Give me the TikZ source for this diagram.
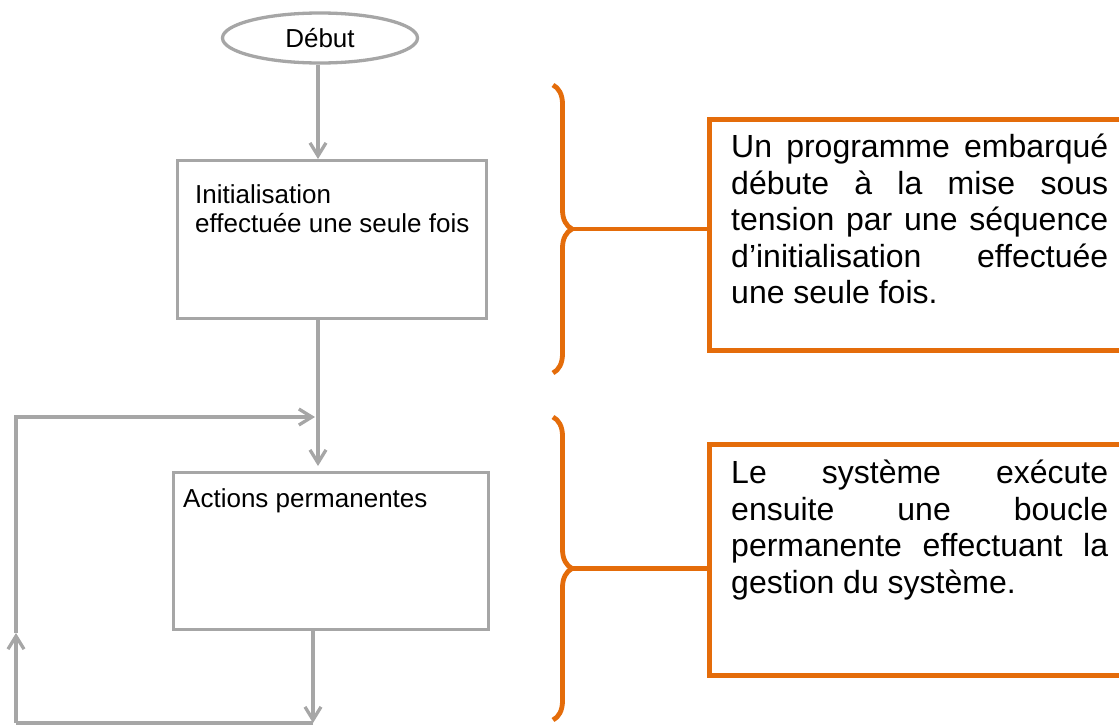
\documentclass[tikz,border=0pt]{standalone}
\usepackage{fontspec}
\setmainfont{Liberation Sans}
\usetikzlibrary{arrows.meta,shapes.geometric,decorations.pathreplacing}
\definecolor{flowgray}{RGB}{166,166,166}
\definecolor{noteorange}{RGB}{228,108,10}
\tikzset{
  flowline/.style={draw=flowgray, line width=3.3pt},
  flowarrow/.style={flowline, -{Straight Barb[length=13pt,width=16pt]}},
  flowbox/.style={draw=flowgray, line width=3.3pt, rectangle, inner sep=0pt},
  flowtext/.style={font=\fontsize{26}{29}\selectfont, inner sep=0pt, align=left},
  notebox/.style={draw=noteorange, line width=5pt, rectangle, inner sep=0pt},
  noteline/.style={draw=noteorange, line width=4.5pt},
  notetext/.style={font=\fontsize{32}{36.5}\selectfont, text width=377pt, align=justify, inner sep=0pt},
  bracket/.style={draw=noteorange, line width=4.8pt, decorate, decoration={brace, amplitude=19pt}},
}
\begin{document}
\begin{tikzpicture}[x=1pt, y=-1pt]
\useasboundingbox (0,0) rectangle (1119,726);

% Flow chart: start, then the two blocks
\node[ellipse, draw=flowgray, line width=3.3pt, minimum width=195pt, minimum height=50pt, inner sep=0pt, font=\fontsize{26}{29}\selectfont] (start) at (320,38) {Début};
\node[flowbox, minimum width=309pt, minimum height=158pt, anchor=north west] (init) at (176,159) {};
\node[flowtext, anchor=north west] (inittext) at (195,184) {Initialisation\\effectuée une seule fois};
\node[flowbox, minimum width=315pt, minimum height=157pt, anchor=north west] (loop) at (172,471) {};
\node[flowtext, anchor=base west] (looptext) at (183,507) {Actions permanentes};

% Connectors and the loop back
\coordinate (merge) at (318,417);
\coordinate (looptop) at (16,417);
\coordinate (loopleft) at (16,633);
\coordinate (loopcorner) at (16,723);
\coordinate (loopbottom) at (313,723);
\draw[flowarrow] (start.south -| merge) -- (init.north -| merge);
\draw[flowline] (init.south -| merge) -- (merge);
\draw[flowarrow, shorten >=5pt] (merge) -- (loop.north -| merge);
\draw[flowarrow] (loop.south -| loopbottom) -- (loopbottom);
\draw[flowline] (loopbottom) -- (loopcorner);
\draw[flowarrow] (loopcorner) -- (loopleft);
\draw[flowarrow, shorten >=3pt] (loopleft) -- (looptop) -- (merge);

% Notes on the right with their braces
\node[notebox, minimum width=425pt, minimum height=231pt, anchor=north west] (initnote) at (707,117) {};
\node[notetext, anchor=north west] (initnotetext) at (731,134) {Un programme embarqué\linebreak débute à la mise sous\linebreak tension par une séquence\linebreak d’initialisation effectuée\linebreak une seule fois.};
\node[notebox, minimum width=425pt, minimum height=231pt, anchor=north west] (loopnote) at (707,442) {};
\node[notetext, anchor=north west] (loopnotetext) at (731,460) {Le système exécute\linebreak ensuite une boucle\linebreak permanente effectuant la\linebreak gestion du système.};

\coordinate (initbracetop) at (553,85);
\coordinate (initbracebot) at (553,373);
\coordinate (initbracetip) at (572,229);
\coordinate (loopbracetop) at (553,417);
\coordinate (loopbracebot) at (553,720);
\coordinate (loopbracetip) at (572,568.5);
\draw[bracket] (initbracetop) -- (initbracebot);
\draw[bracket] (loopbracetop) -- (loopbracebot);
\draw[noteline] (initbracetip) -- (initbracetip -| initnote.west);
\draw[noteline] (loopbracetip) -- (loopbracetip -| loopnote.west);
\end{tikzpicture}
\end{document}
